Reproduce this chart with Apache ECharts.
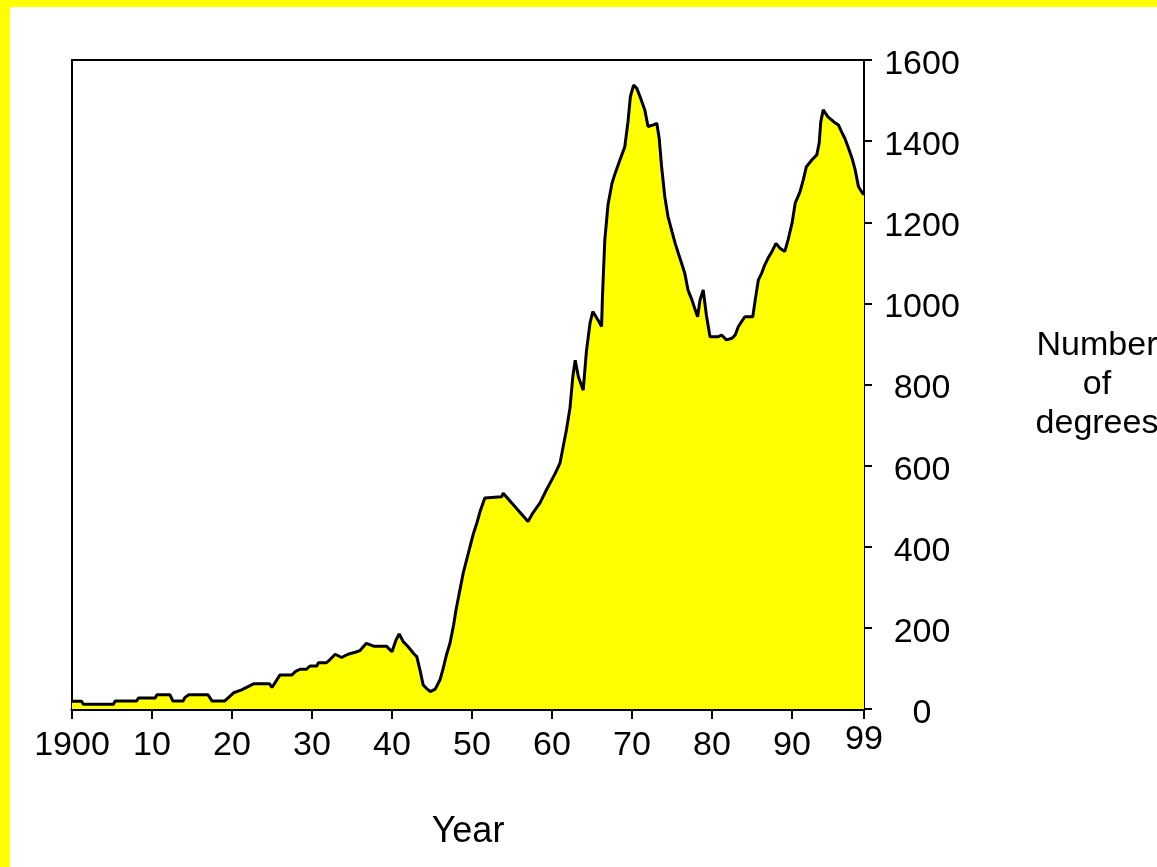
<!DOCTYPE html>
<html>
<head>
<meta charset="utf-8">
<script src="https://cdn.jsdelivr.net/npm/echarts@6/dist/echarts.min.js"></script>
<style>
  html, body { margin: 0; padding: 0; background: #ffff00; }
  #chart { position: absolute; left: 10px; top: 7px; width: 1147px; height: 860px; background: #ffffff; }
</style>
</head>
<body>
<div id="chart"></div>
<script>
// years after 1900 where the outline changes direction
const yearsSince1900 = [
  0, 1.2, 1.4, 5.2, 5.4, 8.1, 8.3, 10.4, 10.6, 12.25, 12.6, 13.9, 14.1, 14.6, 17, 17.5, 19.1,
  20.2, 21.2, 22.7, 24.7, 25, 26, 27.5, 27.9, 28.5, 29.3, 29.75, 30.6, 30.8, 31.8, 32.25, 32.9,
  33.7, 34.5, 35.4, 36, 36.8, 37.7, 39.3, 40, 40.5, 40.9, 41.4, 42, 42.7, 43.1, 43.5, 43.9,
  44.3, 44.8, 45.4, 46, 46.4, 46.8, 47.25, 47.7, 48, 48.9, 49.75, 50.2, 50.6, 51, 51.6, 51.8,
  53.7, 53.9, 57, 57.6, 58.5, 59.3, 60.4, 61, 61.4, 61.8, 62.25, 62.6, 62.9, 63.3, 63.9, 64.3,
  64.75, 65.1, 65.75, 66.2, 66.3, 66.6, 67, 67.5, 67.9, 68.5, 69.1, 69.5, 69.8, 70.2, 70.6, 71,
  71.6, 72, 72.7, 73.1, 73.4, 73.7, 74.1, 74.5, 75, 75.4, 75.8, 76.2, 76.6, 77, 77.5, 77.9,
  78.2, 78.5, 78.9, 79.3, 79.75, 80.8, 81.2, 81.8, 82.5, 82.9, 83.3, 83.7, 84.1, 85.1, 85.4,
  85.8, 86.2, 86.6, 87, 87.5, 88, 88.5, 89.1, 89.5, 90, 90.4, 91, 91.4, 91.8, 92.5, 93.1, 93.4,
  93.6, 93.9, 94.5, 95.2, 95.8, 96.2, 96.6, 97, 97.5, 97.9, 98.3, 98.7, 99
]
const degrees = [
  19, 19, 12, 12, 20, 20, 27, 27, 35, 35, 20, 20, 28, 35, 35, 20, 20,
  40, 47, 62, 62, 53, 84, 84, 92, 98, 98, 106, 106, 114, 114, 122, 135,
  127, 135, 140, 144, 162, 155, 155, 141, 170, 185, 166, 154, 137, 129, 96, 59,
  51, 43, 49, 72, 100, 133, 162, 207, 244, 335, 400, 434, 458, 486, 520, 523,
  523, 532, 462, 483, 508, 540, 581, 606, 647, 688, 742, 819, 860, 819, 786, 881,
  951, 980, 959, 943, 1013, 1156, 1243, 1296, 1321, 1354, 1386, 1448, 1510, 1538, 1530, 1510,
  1477, 1436, 1440, 1444, 1407, 1337, 1263, 1214, 1177, 1148, 1123, 1099, 1074, 1033, 1008, 984,
  967, 1008, 1033, 971, 918, 918, 922, 910, 914, 922, 943, 955, 967, 967, 1008,
  1058, 1074, 1095, 1111, 1128, 1148, 1136, 1128, 1156, 1197, 1247, 1275, 1304, 1337, 1354, 1366, 1395,
  1448, 1477, 1460, 1448, 1440, 1423, 1407, 1386, 1358, 1329, 1288, 1275, 1268
]

const chart = echarts.init(document.getElementById('chart'))

const font = 'Liberation Sans, Arial, sans-serif'

const option = {
  backgroundColor: '#ffffff',
  animation: false,
  grid: {
    left: 62,
    top: 53,
    width: 792,
    height: 649,
    outerBoundsMode: 'none',
    containLabel: false,
    show: true,
    borderColor: '#000',
    borderWidth: 2,
    backgroundColor: 'transparent'
  },
  xAxis: {
    type: 'value',
    min: 1900,
    max: 1999,
    interval: 10,
    name: 'Year',
    nameLocation: 'middle',
    nameGap: 123,
    nameTextStyle: { fontFamily: font, fontSize: 36, color: '#000', verticalAlign: 'middle' },
    axisLine: { lineStyle: { color: '#000', width: 3 } },
    axisTick: { length: 10, lineStyle: { color: '#000', width: 2 } },
    axisLabel: {
      margin: 20,
      fontFamily: font,
      fontSize: 34,
      color: '#000',
      formatter: v => {
        if (v === 1900) return '1900'
        if (v === 1999) return '{up|99}'   // last label sits a little higher
        return String(v % 100)
      },
      rich: {
        up: { fontFamily: font, fontSize: 34, color: '#000', lineHeight: 22 }
      }
    },
    splitLine: { show: false }
  },
  yAxis: {
    type: 'value',
    position: 'right',
    min: 0,
    max: 1600,
    interval: 200,
    name: 'Number\nof\ndegrees',
    nameLocation: 'middle',
    nameRotate: 0,
    nameGap: 233,
    nameTextStyle: {
      fontFamily: font, fontSize: 34, lineHeight: 39, color: '#000',
      align: 'center', verticalAlign: 'middle'
    },
    axisLine: { show: true, lineStyle: { color: '#000', width: 2 } },
    axisTick: { show: true, length: 8, lineStyle: { color: '#000', width: 2 } },
    axisLabel: {
      margin: 58,
      align: 'center',
      color: '#000',
      formatter: v => '{d|' + v + '}',
      rich: {
        d: { fontFamily: font, fontSize: 34, color: '#000', padding: [9, 0, 0, 0] }
      }
    },
    splitLine: { show: false }
  },
  series: [
    {
      type: 'line',
      data: yearsSince1900.map((y, i) => [1900 + y, degrees[i]]),
      showSymbol: false,
      symbol: 'none',
      lineStyle: { color: '#000', width: 3 },
      areaStyle: { color: '#ffff00', opacity: 1 },
      z: 1
    }
  ]
}

chart.setOption(option)
</script>
</body>
</html>
